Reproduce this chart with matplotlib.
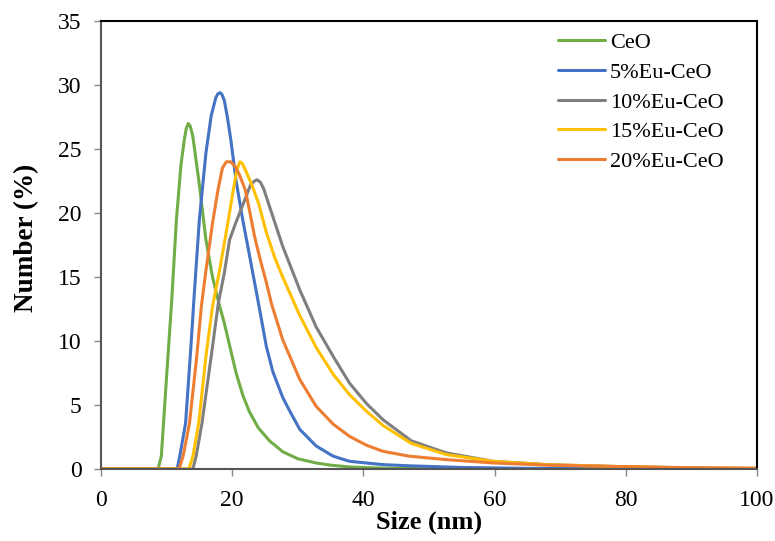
import matplotlib.pyplot as plt

# size distribution (size in nm, number in %)
ceo_x = [0, 8.7, 9.2, 10.0, 10.8, 11.5, 12.2, 12.7, 13.0, 13.3, 13.6, 14.0, 15.0, 16.0,
         17.0, 18.1, 18.8, 20.6, 21.6, 22.6, 24.0, 25.7, 27.7, 30.0, 32.8, 35.0, 37.9,
         42.0, 47.0, 55.0, 100]
ceo_y = [0, 0, 1.0, 7.2, 13.3, 19.5, 23.8, 25.7, 26.6, 27.0, 26.8, 26.0, 22.2, 17.9,
         15.0, 12.7, 11.4, 7.5, 5.8, 4.5, 3.2, 2.2, 1.35, 0.8, 0.47, 0.3, 0.16,
         0.08, 0.04, 0, 0]

eu5_x = [0, 11.6, 12.0, 12.9, 13.7, 14.2, 15.0, 16.0, 16.8, 17.5, 17.8, 18.1, 18.4,
         18.8, 19.3, 19.8, 20.6, 21.6, 22.6, 24.1, 25.2, 26.2, 27.7, 28.7, 30.3, 32.8,
         35.4, 37.9, 43.0, 47.0, 55.0, 65.0, 80.0, 100]
eu5_y = [0, 0, 0.97, 3.6, 9.5, 13.5, 19.5, 24.7, 27.6, 29.0, 29.3, 29.4, 29.3,
         28.8, 27.4, 25.7, 22.5, 19.5, 16.8, 12.7, 9.6, 7.6, 5.6, 4.6, 3.1, 1.8,
         1.0, 0.6, 0.34, 0.25, 0.12, 0.05, 0.02, 0]

eu10_x = [0, 14.0, 14.5, 15.4, 16.8, 17.9, 18.8, 19.6, 20.6, 21.9, 22.8, 23.4, 23.8,
          24.3, 24.8, 25.7, 27.7, 30.3, 32.8, 35.4, 37.9, 40.5, 43.0, 47.3, 52.7, 59.8,
          68.0, 78.0, 90.0, 100]
eu10_y = [0, 0, 0.97, 3.6, 8.8, 13.0, 15.3, 17.9, 19.3, 21.0, 22.2, 22.5, 22.6,
          22.4, 21.9, 20.5, 17.4, 14.0, 11.1, 8.8, 6.7, 5.1, 3.85, 2.2, 1.25, 0.6,
          0.34, 0.2, 0.08, 0.05]

eu15_x = [0, 13.4, 14.0, 14.9, 16.0, 17.0, 18.0, 19.3, 20.1, 20.7, 21.0, 21.2, 21.5,
          21.8, 22.5, 23.0, 24.0, 25.2, 26.5, 27.7, 30.3, 32.8, 35.4, 37.9, 40.5, 43.0,
          47.3, 52.7, 59.8, 68.0, 78.0, 90.0, 100]
eu15_y = [0, 0, 0.97, 3.6, 8.8, 12.7, 15.3, 19.1, 21.6, 23.3, 23.8, 24.0, 23.9,
          23.6, 22.8, 22.2, 20.8, 18.5, 16.5, 15.0, 12.0, 9.5, 7.4, 5.8, 4.5, 3.4,
          2.0, 1.12, 0.6, 0.34, 0.2, 0.08, 0.05]

eu20_x = [0, 11.9, 12.5, 13.5, 14.6, 15.3, 16.0, 17.0, 17.8, 18.5, 19.1, 19.8, 20.5,
          21.1, 22.0, 22.6, 23.4, 24.3, 25.2, 26.0, 27.7, 30.3, 32.8, 35.4, 37.9, 40.5,
          43.0, 47.0, 52.7, 59.8, 68.0, 78.0, 90.0, 100]
eu20_y = [0, 0, 0.97, 3.6, 8.8, 12.7, 15.5, 19.2, 21.7, 23.5, 24.0, 24.0, 23.6,
          23.0, 21.8, 20.3, 18.2, 16.3, 14.6, 12.9, 10.1, 7.0, 4.9, 3.5, 2.55, 1.85,
          1.38, 1.0, 0.73, 0.47, 0.3, 0.2, 0.1, 0.05]

series = [
    ('CeO', ceo_x, ceo_y, '#70AD47'),
    ('5%Eu-CeO', eu5_x, eu5_y, '#4472C4'),
    ('10%Eu-CeO', eu10_x, eu10_y, '#7F7F7F'),
    ('15%Eu-CeO', eu15_x, eu15_y, '#FFC000'),
    ('20%Eu-CeO', eu20_x, eu20_y, '#ED7D31'),
]

plt.rcParams['font.family'] = 'Liberation Serif'

fig = plt.figure(figsize=(7.75, 5.41), dpi=100)
ax = fig.add_axes([0.1303, 0.1331, 0.8464, 0.8280])

for name, xs, ys, col in series:
    ax.plot(xs, ys, color=col, lw=2.2, label=name,
            solid_capstyle='round', solid_joinstyle='round')

ax.set_xlim(0, 100)
ax.set_ylim(0, 35)
ax.set_xticks(range(0, 101, 20))
ax.set_yticks(range(0, 36, 5))
ax.tick_params(labelsize=17, length=5, width=1, color='#888888', direction='out')
ax.tick_params(axis='x', pad=10)
ax.tick_params(axis='y', pad=9)

for side in ['left', 'bottom']:
    ax.spines[side].set_color('#555555')
    ax.spines[side].set_linewidth(1.5)
for side in ['top', 'right']:
    ax.spines[side].set_color('black')
    ax.spines[side].set_linewidth(1.5)

ax.set_xlabel('Size (nm)', fontsize=19, fontweight='bold')
ax.set_ylabel('Number (%)', fontsize=19.5, fontweight='bold')
ax.xaxis.set_label_coords(0.5, -0.093)
ax.yaxis.set_label_coords(-0.095, 0.515)

ax.legend(loc='upper left', bbox_to_anchor=(0.697, 0.974), frameon=False, fontsize=16,
          handlelength=2.1, handletextpad=0.22, labelspacing=0.41,
          borderpad=0, borderaxespad=0)

fig.savefig('out.png', dpi=100)
